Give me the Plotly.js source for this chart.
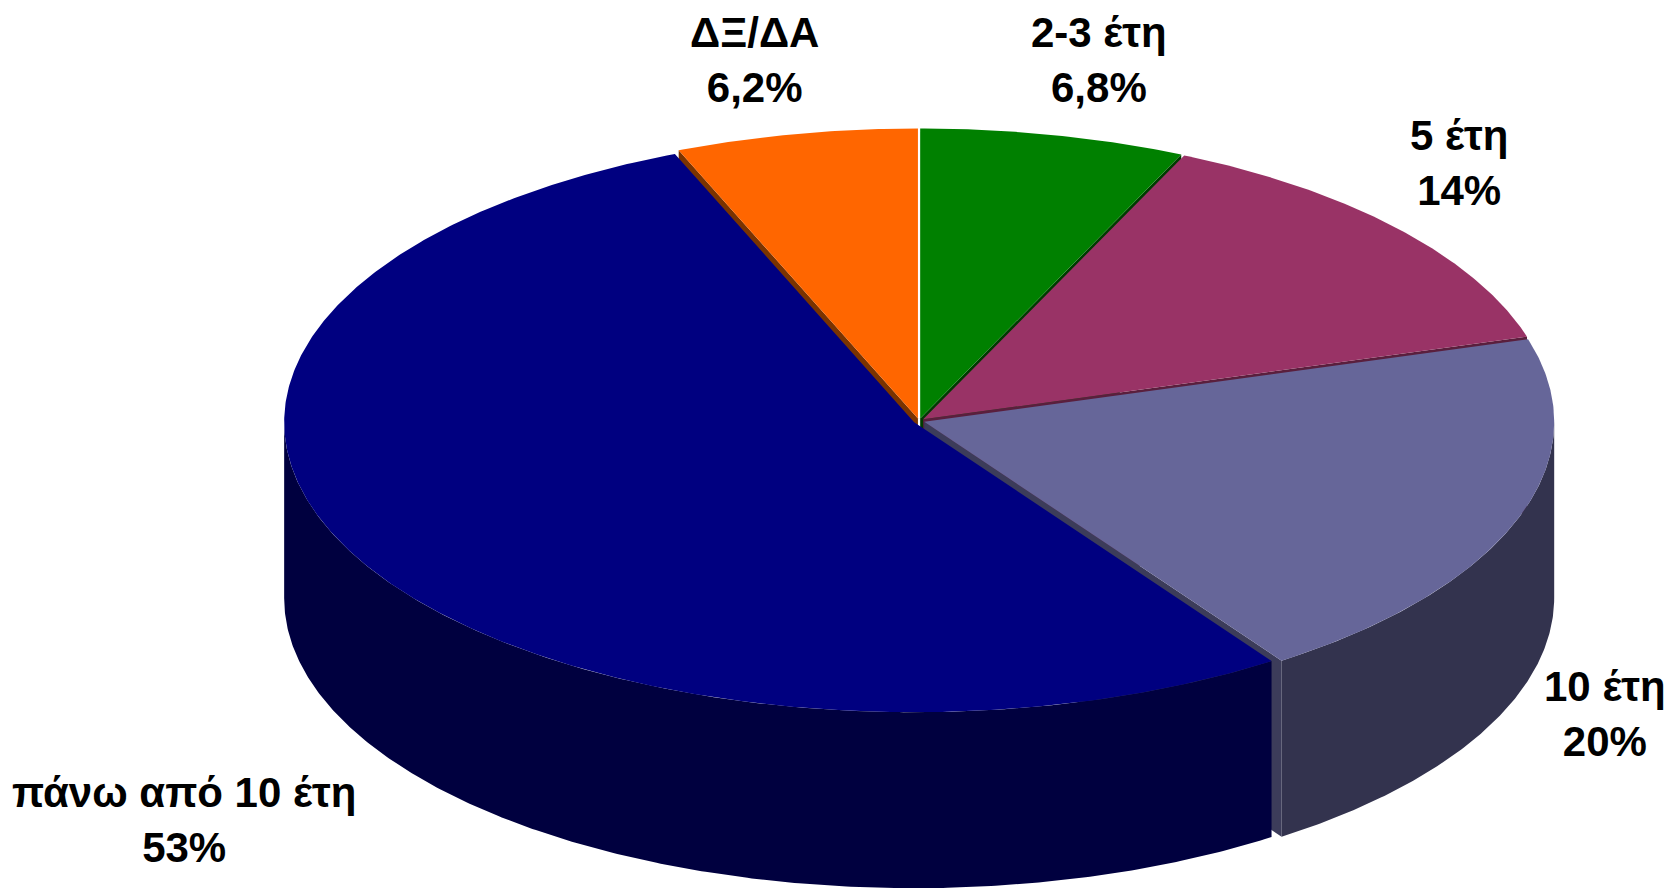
<!DOCTYPE html>
<html><head><meta charset="utf-8">
<script src="https://cdn.plot.ly/plotly-3.0.1.min.js"></script>
<style>html,body{margin:0;padding:0;background:#fff;overflow:hidden}</style>
</head><body><div id="chart" style="width:1678px;height:889px"></div>
<script>
// ---- data (clockwise from 12 o'clock) ----
const categories = ['2-3 έτη', '5 έτη', '10 έτη', 'πάνω από 10 έτη', 'ΔΞ/ΔΑ'];
const values = [6.8, 13.6, 20.0, 53.4, 6.2];
const valueLabels = ['6,8%', '14%', '20%', '53%', '6,2%'];

// ---- styles ----
const topColors  = ['#008000', '#993366', '#666699', '#000080', '#FF6600'];
const sideColors = ['#004000', '#4d1a33', '#33334e', '#00003f', '#803300'];
const faceColors = ['#003c00', '#5a1f3d', '#3c3c5a', '#00004d', '#7a3300'];

const W = 1678, H = 889;
const CX = 919, CY = 421, RX = 630, RY = 290, DEPTH = 176, EXPLODE = 5.5;

const total = values.reduce((a, b) => a + b, 0);
const slices = [];
let acc = 0;
values.forEach((v, i) => {
  const a1 = acc / total * 360;
  acc += v;
  const a2 = acc / total * 360;
  const mid = (a1 + a2) / 2 * Math.PI / 180;
  slices.push({i, a1, a2, ox: EXPLODE * Math.sin(mid), oy: -EXPLODE * Math.cos(mid) * RY / RX});
});

function pt(deg, s, dz) {
  const t = deg * Math.PI / 180;
  return [CX + s.ox + RX * Math.sin(t), CY + s.oy - RY * Math.cos(t) + dz];
}
function arc(a1, a2, s, dz) {
  const n = Math.max(2, Math.ceil((a2 - a1) / 0.4));
  const out = [];
  for (let k = 0; k <= n; k++) out.push(pt(a1 + (a2 - a1) * k / n, s, dz));
  return out;
}
function poly(points, color) {
  const xs = points.map(p => p[0]), ys = points.map(p => p[1]);
  xs.push(xs[0]); ys.push(ys[0]);
  return {type: 'scatter', mode: 'lines', x: xs, y: ys, fill: 'toself', fillcolor: color,
          line: {width: 0, color: color}, hoverinfo: 'skip', showlegend: false};
}

const faces = [], sides = [], tops = [];
slices.forEach(s => {
  const apexTop = [CX + s.ox, CY + s.oy];
  const apexBot = [CX + s.ox, CY + s.oy + DEPTH];
  // radial cut faces facing the viewer
  const sa1 = Math.sin(s.a1 * Math.PI / 180), sa2 = Math.sin(s.a2 * Math.PI / 180);
  if (sa1 < -1e-6) faces.push(poly([apexTop, pt(s.a1, s, 0), pt(s.a1, s, DEPTH), apexBot], faceColors[s.i]));
  if (sa2 > 1e-6) faces.push(poly([apexTop, pt(s.a2, s, 0), pt(s.a2, s, DEPTH), apexBot], faceColors[s.i]));
  // outer side wall (front half only)
  const b1 = Math.max(s.a1, 90), b2 = Math.min(s.a2, 270);
  if (b2 > b1) {
    const up = arc(b1, b2, s, 0), down = arc(b1, b2, s, DEPTH).reverse();
    sides.push(poly(up.concat(down), sideColors[s.i]));
  }
  // top face
  tops.push(poly([apexTop].concat(arc(s.a1, s.a2, s, 0)), topColors[s.i]));
});

const labelFont = {family: 'Liberation Sans, Arial, sans-serif', size: 42, color: '#000000', weight: 'bold'};
const labelAnchors = [[1099, 60], [1459, 163], [1605, 714], [184, 820], [754, 60]];
const annotations = categories.map((c, i) => ({
  text: c + '<br>' + valueLabels[i],
  x: labelAnchors[i][0], y: labelAnchors[i][1], xref: 'x', yref: 'y',
  xanchor: 'center', yanchor: 'middle', showarrow: false, align: 'center', font: labelFont
}));

const layout = {
  width: W, height: H,
  margin: {l: 0, r: 0, t: 0, b: 0},
  paper_bgcolor: '#ffffff', plot_bgcolor: '#ffffff',
  xaxis: {range: [0, W], visible: false, fixedrange: true},
  yaxis: {range: [H, 0], visible: false, fixedrange: true},
  showlegend: false,
  annotations
};
Plotly.newPlot('chart', faces.concat(sides, tops), layout, {displayModeBar: false, staticPlot: true});
</script>
</body></html>
